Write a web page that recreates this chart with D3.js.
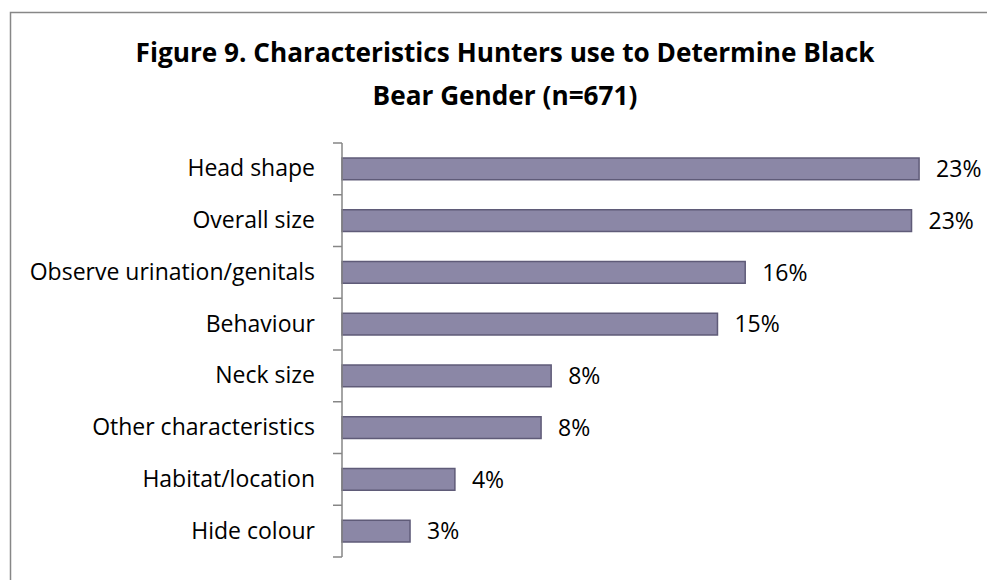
<!DOCTYPE html>
<html>
<head>
<meta charset="utf-8">
<script src="https://cdn.jsdelivr.net/npm/d3@7"></script>
<style>
  html, body { margin: 0; padding: 0; background: #fff; overflow: hidden; }
  svg { display: block; }
</style>
</head>
<body>
<svg id="chart" width="987" height="580"></svg>
<script>
const titleLines = ["Figure 9. Characteristics Hunters use to Determine Black", "Bear Gender (n=671)"];
const categories = ["Head shape", "Overall size", "Observe urination/genitals", "Behaviour", "Neck size", "Other characteristics", "Habitat/location", "Hide colour"];
const values = [0.229, 0.226, 0.160, 0.149, 0.083, 0.079, 0.0448, 0.027];

const W = 987, H = 580;
const svg = d3.select("#chart");
const font = "'Open Sans', 'Liberation Sans', sans-serif";

// outer border: only the top and left edges are inside the frame
svg.append("path")
  .attr("d", `M10.5,${H} V12.5 H${W}`)
  .attr("fill", "none").attr("stroke", "#878787").attr("stroke-width", 1.5);

// title
svg.append("g").selectAll("text").data(titleLines).join("text")
  .attr("x", 505).attr("y", (d, i) => 62 + i * 43)
  .attr("text-anchor", "middle")
  .attr("font-family", font).attr("font-weight", "bold").attr("font-size", 26.2)
  .attr("fill", "#000")
  .text(d => d);

const x0 = 342;
const x = d3.scaleLinear().domain([0, 0.25]).range([x0, x0 + 630]);
const y = d3.scaleBand().domain(categories).range([143, 557]).paddingInner(0.58).paddingOuter(0.29);

// bars
svg.append("g").selectAll("rect").data(categories).join("rect")
  .attr("x", x(0))
  .attr("y", d => y(d))
  .attr("width", (d, i) => x(values[i]) - x(0))
  .attr("height", y.bandwidth())
  .attr("fill", "#8b87a6")
  .attr("stroke", "#5f5b78").attr("stroke-width", 1.5);

// value labels
const fmt = d3.format(".0%");
svg.append("g").selectAll("text").data(categories).join("text")
  .attr("x", (d, i) => x(values[i]) + 17)
  .attr("y", d => y(d) + y.bandwidth() / 2)
  .attr("dy", "0.36em")
  .attr("font-family", font).attr("font-size", 23)
  .attr("fill", "#000")
  .text((d, i) => fmt(values[i]));

// axis
const yStep = d3.scaleLinear().domain([0, categories.length]).range([143, 557]);
const axis = svg.append("g").attr("transform", `translate(${x0},0)`)
  .call(d3.axisLeft(y).tickSize(0).tickPadding(27));
axis.select(".domain").remove();
axis.selectAll("text").attr("font-family", font).attr("font-size", 23).attr("fill", "#000");
axis.append("line").attr("x1", 0).attr("x2", 0).attr("y1", 143).attr("y2", 557)
  .attr("stroke", "#868686").attr("stroke-width", 1.5);
axis.selectAll("line.tk").data(d3.range(categories.length + 1)).join("line")
  .attr("class", "tk")
  .attr("x1", -9).attr("x2", 0)
  .attr("y1", d => yStep(d)).attr("y2", d => yStep(d))
  .attr("stroke", "#868686").attr("stroke-width", 1.5);
</script>
</body>
</html>
